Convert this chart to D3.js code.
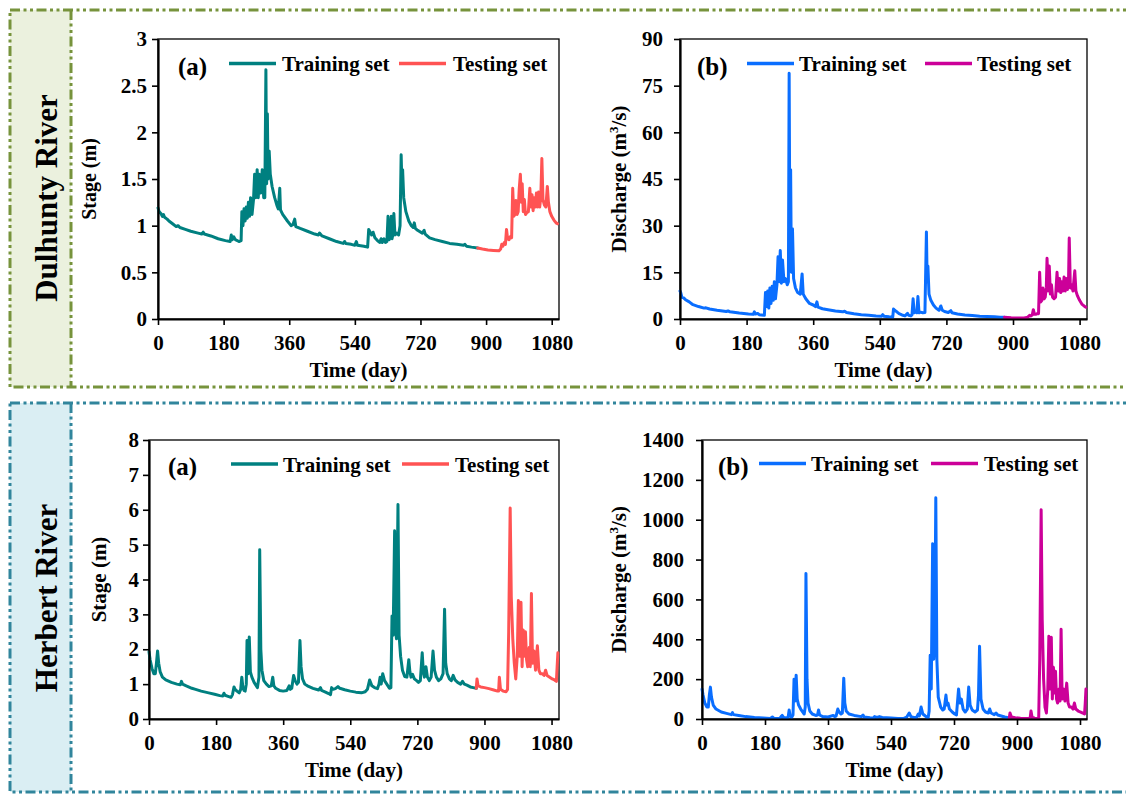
<!DOCTYPE html>
<html><head><meta charset="utf-8">
<script src="https://cdn.jsdelivr.net/npm/d3@7"></script>
<style>
body{margin:0;background:#fff;}
svg{display:block;font-family:"Liberation Serif","Times New Roman",serif;font-weight:bold;}
</style></head><body>
<svg id="chart" width="1126" height="794"></svg>
<script>
// ---------- data ----------
const xTicks = [0,180,360,540,720,900,1080];
const dulStageTicks = [0,0.5,1,1.5,2,2.5,3];
const dulFlowTicks = [0,15,30,45,60,75,90];
const herStageTicks = [0,1,2,3,4,5,6,7,8];
const herFlowTicks = [0,200,400,600,800,1000,1200,1400];
const seriesNames = ["Training set","Testing set"];

const dulStageTrain = [[0,1.19],[3,1.15],[8,1.13],[12,1.1],[15,1.12],[18,1.09],[25,1.07],[30,1.05],[40,1.02],[50,0.99],[55,1.0],[60,0.98],[75,0.96],[90,0.94],[110,0.92],[120,0.91],[124,0.93],[127,0.91],[145,0.89],[165,0.86],[185,0.84],[198,0.83],[201,0.9],[204,0.85],[208,0.88],[212,0.85],[222,0.83],[228,0.84],[230,1.15],[233,1.0],[236,1.18],[239,1.05],[242,1.2],[245,1.08],[248,1.25],[251,1.1],[254,1.3],[258,1.12],[262,1.28],[265,1.55],[268,1.3],[272,1.6],[275,1.3],[278,1.55],[282,1.35],[286,1.6],[290,1.3],[293,1.3],[296,2.67],[298,1.45],[300,2.2],[302,1.5],[305,1.8],[308,1.55],[313,1.42],[320,1.3],[326,1.22],[330,1.18],[334,1.4],[336,1.17],[342,1.12],[355,1.05],[365,1.0],[370,1.01],[375,1.07],[378,0.99],[390,0.97],[410,0.94],[430,0.91],[440,0.9],[443,0.92],[450,0.89],[470,0.86],[490,0.83],[508,0.81],[512,0.83],[515,0.81],[530,0.8],[540,0.79],[544,0.83],[547,0.79],[565,0.78],[575,0.77],[578,0.96],[582,0.93],[586,0.9],[590,0.93],[595,0.87],[602,0.84],[608,0.82],[612,0.86],[615,0.82],[620,0.86],[624,0.82],[628,0.83],[631,1.1],[634,0.85],[637,0.87],[640,1.1],[642,0.86],[644,0.9],[647,1.13],[650,0.9],[655,0.92],[660,0.9],[664,1.0],[667,1.76],[669,1.45],[671,1.6],[674,1.3],[680,1.15],[688,1.05],[695,1.0],[700,0.98],[703,1.03],[706,0.97],[712,0.95],[725,0.92],[730,0.95],[733,0.91],[745,0.87],[760,0.85],[780,0.83],[800,0.81],[820,0.8],[838,0.79],[842,0.8],[846,0.78],[860,0.77],[877,0.76]];
const dulStageTest = [[877,0.76],[890,0.75],[905,0.74],[920,0.735],[935,0.73],[940,0.75],[943,0.8],[946,0.78],[950,0.82],[953,0.8],[956,0.96],[959,0.86],[963,0.85],[966,0.88],[970,0.87],[973,1.4],[976,1.1],[979,1.12],[982,1.27],[985,1.12],[988,1.15],[991,1.4],[994,1.55],[997,1.25],[999,1.45],[1002,1.15],[1005,1.28],[1008,1.12],[1012,1.14],[1016,1.15],[1020,1.4],[1023,1.2],[1026,1.33],[1029,1.16],[1032,1.3],[1035,1.2],[1038,1.35],[1041,1.2],[1044,1.36],[1047,1.2],[1050,1.3],[1053,1.72],[1056,1.28],[1060,1.22],[1064,1.2],[1068,1.42],[1071,1.25],[1075,1.15],[1080,1.1],[1086,1.06],[1092,1.03],[1096,1.02]];

const dulFlowTrain = [[0,9],[2,8.5],[5,7],[10,6.8],[15,6.2],[25,5.5],[35,4.6],[50,4],[65,3.5],[70,3.6],[80,3.2],[100,2.8],[125,2.4],[130,2.6],[135,2.3],[160,1.9],[185,1.6],[198,1.5],[201,2.3],[204,1.6],[210,1.8],[214,1.4],[228,1.2],[231,8.5],[234,4],[237,9],[240,3.5],[243,10],[246,5],[249,10.5],[252,6],[255,12],[258,6.5],[262,11],[265,20],[268,12],[271,22],[274,11.5],[277,19],[281,12],[285,13],[290,11],[293,12],[295,79],[297,22],[299,48],[301,15],[304,29],[307,13],[312,10],[318,8.5],[325,8],[330,14.5],[333,8],[340,6.5],[350,5],[360,4.5],[366,4],[370,5.5],[373,3.8],[385,3.3],[400,3],[420,2.6],[440,2.3],[445,2.5],[450,2.1],[470,1.7],[490,1.4],[510,1.2],[530,1.0],[545,0.9],[548,1.4],[551,0.9],[565,0.7],[575,0.6],[577,3.2],[581,2.7],[586,2.3],[592,1.7],[600,1.3],[608,1.0],[615,1.8],[618,1.2],[624,1.0],[627,1.3],[630,6.5],[633,2],[637,2.3],[640,2],[643,7.2],[646,2],[650,2.2],[656,2],[662,2.1],[666,28],[668,12],[670,17],[673,8],[678,6],[685,4.5],[692,3.5],[700,2.8],[705,4.2],[709,2.8],[715,2.4],[725,2.1],[732,2.7],[735,2.0],[750,1.6],[770,1.3],[790,1.1],[810,0.9],[830,0.8],[850,0.7],[865,0.6],[877,0.55]];
const dulFlowTest = [[877,0.55],[895,0.4],[915,0.3],[930,0.35],[940,0.6],[945,1.2],[948,1.0],[952,1.3],[955,3],[958,1.5],[962,1.5],[966,1.8],[969,1.7],[972,15],[975,5.5],[978,6],[981,10],[984,6.5],[987,7],[990,10],[992,19.5],[995,9],[998,17],[1001,8],[1004,11],[1007,7],[1011,6.5],[1015,7],[1019,15],[1022,9],[1026,13],[1029,8.5],[1032,12],[1035,9],[1038,13.5],[1041,9],[1044,13],[1047,9.5],[1050,12],[1052,26],[1055,10],[1058,11],[1062,9],[1067,15.5],[1070,9],[1074,7.5],[1080,6],[1086,4.8],[1092,4.2],[1097,3.8]];

const herStageTrain = [[0,1.93],[3,1.7],[8,1.45],[13,1.3],[17,1.3],[20,1.6],[23,1.95],[26,1.6],[30,1.35],[36,1.2],[45,1.12],[60,1.05],[75,1.0],[84,0.98],[87,1.08],[90,1.0],[100,0.95],[115,0.88],[125,0.85],[140,0.8],[160,0.75],[176,0.71],[190,0.67],[198,0.66],[201,0.74],[204,0.68],[212,0.65],[220,0.62],[224,0.7],[228,0.92],[231,0.85],[236,0.8],[242,0.75],[246,0.85],[249,1.2],[252,0.9],[255,0.82],[258,0.8],[261,1.0],[263,2.25],[266,1.3],[269,2.35],[272,1.35],[276,1.2],[282,1.05],[288,0.95],[291,0.9],[295,1.2],[297,4.85],[300,2.0],[303,1.4],[308,1.1],[315,1.0],[322,0.93],[328,0.95],[332,1.2],[335,0.95],[340,0.88],[350,0.82],[360,0.8],[370,0.82],[376,0.95],[379,0.85],[383,0.88],[388,1.25],[392,1.1],[397,1.0],[401,1.05],[405,2.25],[408,1.5],[412,1.15],[418,1.0],[425,0.95],[440,0.88],[455,0.83],[460,0.9],[463,0.82],[472,0.78],[482,0.73],[487,0.7],[490,0.9],[494,0.85],[500,0.87],[507,0.93],[512,0.88],[525,0.84],[540,0.8],[555,0.77],[570,0.75],[580,0.78],[586,0.85],[592,1.12],[598,0.95],[605,0.9],[613,0.87],[617,1.0],[620,1.2],[623,1.0],[627,1.3],[632,1.1],[638,1.0],[645,0.88],[649,0.9],[652,2.95],[655,2.4],[659,5.4],[661,2.6],[664,2.3],[668,6.15],[671,2.4],[675,1.8],[680,1.4],[686,1.22],[692,1.2],[697,1.7],[700,1.35],[703,1.2],[707,1.28],[712,1.15],[718,1.1],[723,1.05],[728,1.1],[733,1.9],[736,1.35],[739,1.2],[743,1.5],[747,1.2],[752,1.1],[757,1.2],[762,1.95],[766,1.4],[771,1.2],[777,1.1],[783,1.15],[789,1.3],[793,3.15],[796,1.6],[800,1.3],[806,1.15],[811,1.1],[816,1.25],[821,1.12],[828,1.05],[836,1.0],[841,1.08],[846,1.0],[853,0.97],[862,0.92],[870,0.9],[878,0.88]];
const herStageTest = [[878,0.88],[880,1.15],[883,0.95],[890,0.92],[900,0.9],[912,0.87],[925,0.83],[935,0.8],[938,0.8],[940,1.2],[943,0.85],[950,0.8],[958,0.78],[962,0.85],[965,2.5],[969,6.05],[972,3.5],[976,2.3],[980,1.6],[984,1.15],[988,1.8],[991,3.4],[994,1.8],[996,2.0],[998,3.35],[1001,1.5],[1004,2.55],[1007,1.8],[1010,2.5],[1013,1.7],[1016,1.5],[1020,2.05],[1023,1.5],[1026,3.6],[1029,1.6],[1033,1.95],[1037,1.4],[1042,2.1],[1046,1.4],[1050,1.3],[1055,1.3],[1060,1.25],[1064,1.4],[1068,1.25],[1075,1.2],[1082,1.15],[1088,1.12],[1093,1.08],[1095,1.5],[1097,1.9]];

const herFlowTrain = [[0,150],[3,120],[8,80],[14,60],[18,60],[21,120],[24,160],[27,110],[32,70],[40,50],[55,35],[70,28],[84,22],[87,32],[90,22],[105,18],[125,12],[150,8],[175,5],[195,3],[201,10],[205,4],[215,3],[222,2],[226,12],[229,18],[233,8],[240,5],[246,8],[249,45],[252,15],[256,8],[260,20],[263,200],[266,90],[269,220],[272,100],[276,70],[282,50],[288,35],[292,25],[295,60],[297,730],[300,200],[303,80],[308,40],[315,25],[325,18],[330,20],[333,45],[336,20],[345,12],[360,10],[375,18],[379,12],[383,15],[388,50],[392,35],[397,25],[401,30],[405,205],[408,80],[412,40],[420,25],[435,18],[455,12],[460,20],[463,10],[480,6],[490,5],[493,12],[500,8],[507,12],[515,8],[540,5],[560,3],[575,2],[585,10],[592,30],[597,12],[605,8],[613,8],[618,25],[621,15],[626,60],[631,25],[638,15],[646,5],[649,40],[652,320],[655,150],[659,880],[662,300],[665,400],[668,1110],[671,300],[675,110],[682,60],[688,45],[692,50],[697,120],[700,70],[703,80],[707,50],[715,35],[722,25],[727,20],[733,150],[737,80],[741,100],[746,50],[752,35],[758,50],[762,160],[766,70],[772,45],[780,35],[787,45],[790,120],[793,365],[797,100],[803,50],[810,35],[818,30],[822,50],[826,30],[835,22],[840,30],[845,20],[855,15],[865,10],[878,5]];
const herFlowTest = [[878,5],[880,30],[884,10],[895,6],[910,4],[925,3],[935,2],[938,10],[940,40],[943,10],[950,4],[958,3],[962,5],[965,300],[969,1050],[972,500],[976,200],[980,60],[984,30],[988,150],[991,415],[994,150],[996,200],[998,410],[1001,100],[1004,260],[1007,130],[1010,240],[1013,100],[1016,80],[1020,150],[1023,90],[1026,450],[1029,100],[1033,150],[1037,90],[1042,180],[1046,80],[1050,60],[1055,60],[1060,50],[1064,80],[1068,50],[1075,40],[1082,35],[1088,30],[1093,25],[1095,80],[1097,150]];

// ---------- drawing ----------
const svg = d3.select("#chart");
svg.append("rect").attr("width",1126).attr("height",794).attr("fill","#fff");

// section frames
function section(y0, y1, stroke, fill, label, labelY){
  const dash = "10,3.5,3,3.5,3,3.5";
  svg.append("rect").attr("x",10).attr("y",y0).attr("width",61).attr("height",y1-y0)
    .attr("fill",fill).attr("stroke","none");
  svg.append("rect").attr("x",10).attr("y",y0).attr("width",1130).attr("height",y1-y0)
    .attr("fill","none").attr("stroke",stroke).attr("stroke-width",3).attr("stroke-dasharray",dash);
  svg.append("line").attr("x1",71).attr("x2",71).attr("y1",y0).attr("y2",y1)
    .attr("stroke",stroke).attr("stroke-width",3).attr("stroke-dasharray",dash);
  svg.append("text").attr("transform",`translate(57,${labelY}) rotate(-90)`)
    .attr("text-anchor","middle").attr("font-size",31).attr("fill","#000").text(label);
}
section(10, 387, "#77933C", "#EBF1DE", "Dulhunty River", 198);
section(403, 792, "#31859C", "#DAEEF3", "Herbert River", 598);

function panel(c){
  const g = svg.append("g");
  const x = d3.scaleLinear().domain([0,1100]).range([c.l, c.r]);
  const y = d3.scaleLinear().domain([0, c.yTicks[c.yTicks.length-1]]).range([c.b, c.t]);
  g.append("rect").attr("x",c.l).attr("y",c.t).attr("width",c.r-c.l).attr("height",c.b-c.t)
    .attr("fill","none").attr("stroke","#000").attr("stroke-width",1.3);
  const line = d3.line().x(d=>x(d[0])).y(d=>y(d[1]));
  [[c.train,c.c1],[c.test,c.c2]].forEach(([data,col])=>{
    g.append("path").datum(data).attr("d",line).attr("fill","none")
      .attr("stroke",col).attr("stroke-width",3).attr("stroke-linejoin","round").attr("stroke-linecap","round");
  });
  const xa = g.append("g").attr("transform",`translate(0,${c.b})`)
    .call(d3.axisBottom(x).tickValues(xTicks).tickSize(6).tickSizeOuter(0).tickPadding(10).tickFormat(d=>String(d)));
  const ya = g.append("g").attr("transform",`translate(${c.l},0)`)
    .call(d3.axisLeft(y).tickValues(c.yTicks).tickSize(6).tickSizeOuter(0).tickPadding(c.yPad).tickFormat(d=>String(d)));
  [xa,ya].forEach(a=>{
    a.attr("font-family",null).attr("font-size",null);
    a.select(".domain").attr("stroke","#000").attr("stroke-width",2.2);
    a.selectAll(".tick line").attr("stroke","#000").attr("stroke-width",1.6);
    a.selectAll(".tick text").attr("font-size",21).attr("fill","#000");
  });
  // x title
  g.append("text").attr("x",(c.l+c.r)/2).attr("y",c.b+58).attr("text-anchor","middle")
    .attr("font-size",21).text("Time (day)");
  // y title
  const yt = g.append("text").attr("transform",`translate(${c.yTitleX},${(c.t+c.b)/2}) rotate(-90)`)
    .attr("text-anchor","middle").attr("font-size",c.yTitleSize);
  if(c.discharge){
    yt.append("tspan").text("Discharge (m");
    yt.append("tspan").attr("font-size",13).attr("dy",-8).text("3");
    yt.append("tspan").attr("dy",8).text("/s)");
  } else {
    yt.text("Stage (m)");
  }
  // tag + legend
  const L = c.leg;
  g.append("text").attr("x",L.tag).attr("y",L.y+11).attr("font-size",25).text(c.tag);
  [[L.l1,L.t1,c.c1,seriesNames[0]],[L.l2,L.t2,c.c2,seriesNames[1]]].forEach(([lx,tx,col,name])=>{
    g.append("line").attr("x1",lx).attr("x2",lx+47).attr("y1",L.y).attr("y2",L.y)
      .attr("stroke",col).attr("stroke-width",3.5);
    g.append("text").attr("x",tx).attr("y",L.y+7.5).attr("font-size",21).text(name);
  });
}

const teal="#008080", red="#FF5353", blue="#0A6EFF", magenta="#CC0099";

panel({l:158,r:559,t:39,b:319,yTicks:dulStageTicks,yPad:5,train:dulStageTrain,test:dulStageTest,c1:teal,c2:red,
  tag:"(a)",yTitleX:96,yTitleSize:20,discharge:false,leg:{y:63.5,tag:178,l1:229,t1:282,l2:399,t2:453}});
panel({l:680,r:1087,t:39,b:319,yTicks:dulFlowTicks,yPad:11,train:dulFlowTrain,test:dulFlowTest,c1:blue,c2:magenta,
  tag:"(b)",yTitleX:626,yTitleSize:21,discharge:true,leg:{y:63.5,tag:697,l1:747,t1:799,l2:925,t2:977}});
panel({l:149,r:559,t:440,b:719,yTicks:herStageTicks,yPad:4,train:herStageTrain,test:herStageTest,c1:teal,c2:red,
  tag:"(a)",yTitleX:106,yTitleSize:21,discharge:false,leg:{y:464,tag:168,l1:231,t1:283,l2:402,t2:455}});
panel({l:702,r:1087,t:440,b:719,yTicks:herFlowTicks,yPad:12,train:herFlowTrain,test:herFlowTest,c1:blue,c2:magenta,
  tag:"(b)",yTitleX:626,yTitleSize:21,discharge:true,leg:{y:463.5,tag:718,l1:759,t1:811,l2:931,t2:984}});
</script>
</body></html>
